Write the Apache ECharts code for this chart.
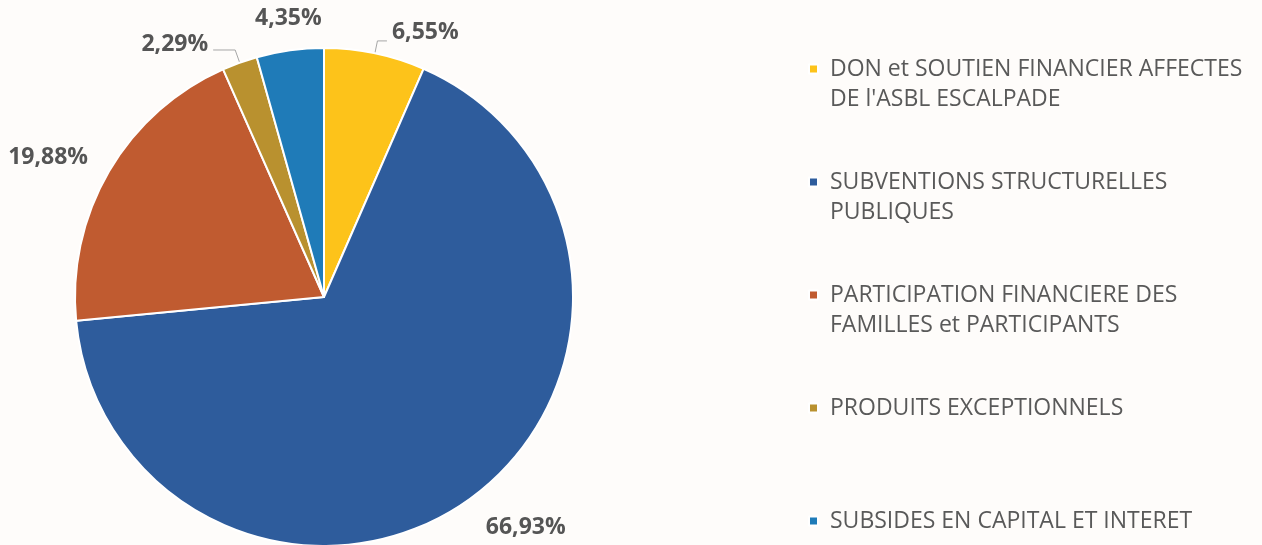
<!DOCTYPE html>
<html><head><meta charset="utf-8">
<script src="https://cdn.jsdelivr.net/npm/echarts@6/dist/echarts.min.js"></script>
<style>html,body{margin:0;padding:0;background:#fefcfa}#c{width:1262px;height:545px}</style>
</head><body><div id="c"></div>
<script>
const categories = [
  "DON et SOUTIEN FINANCIER AFFECTES DE l'ASBL ESCALPADE",
  "SUBVENTIONS STRUCTURELLES PUBLIQUES",
  "PARTICIPATION FINANCIERE DES FAMILLES et PARTICIPANTS",
  "PRODUITS EXCEPTIONNELS",
  "SUBSIDES EN CAPITAL ET INTERET"
];
const legendLabels = [
  "DON et SOUTIEN FINANCIER AFFECTES\nDE l'ASBL ESCALPADE",
  "SUBVENTIONS STRUCTURELLES\nPUBLIQUES",
  "PARTICIPATION FINANCIERE DES\nFAMILLES et PARTICIPANTS",
  "PRODUITS EXCEPTIONNELS",
  "SUBSIDES EN CAPITAL ET INTERET"
];
const values = [6.55, 66.93, 19.88, 2.29, 4.35];
const colors = ['#fdc31a', '#2e5c9c', '#c05b30', '#b9912f', '#1f7bb8'];

const font = "'Open Sans', sans-serif";
// per-slice label geometry (leader line lengths, show line, fine offsets)
const labelCfg = [
  {len: 12.6, len2: 9.5, line: true, dx: 0, dy: -8},
  {len: 30, len2: 0, line: false, dx: -7, dy: 5},
  {len: 15, len2: 0, line: false, dx: -3, dy: -6},
  {len: 13.5, len2: 22, line: true, dx: 0, dy: -6},
  {len: 32, len2: 0, line: false, dx: 41, dy: 0}
];

const data = categories.map((n, i) => ({
  name: n, value: values[i],
  itemStyle: {color: colors[i]},
  labelLine: {show: labelCfg[i].line, length: labelCfg[i].len, length2: labelCfg[i].len2}
}));

// keep the legend icon on the first text line: pad each entry to 3 lines
function legendText(name) {
  const t = legendLabels[categories.indexOf(name)];
  return t.indexOf('\n') >= 0 ? '\n' + t : '\n' + t + '\n';
}

const chart = echarts.init(document.getElementById('c'), null, {renderer: 'canvas'});
chart.setOption({
  backgroundColor: '#fefcfa',
  animation: false,
  color: colors,
  legend: {
    orient: 'vertical',
    left: 808, top: 24,
    height: 700,
    padding: 0,
    itemGap: 23,
    itemWidth: 9, itemHeight: 9,
    icon: 'rect',
    data: categories,
    formatter: legendText,
    textStyle: {fontFamily: font, fontSize: 23, color: '#595959', lineHeight: 30, padding: [0, 0, 0, 7]}
  },
  series: [{
    type: 'pie',
    center: [324, 297],
    radius: 249,
    startAngle: 90,
    clockwise: true,
    avoidLabelOverlap: false,
    itemStyle: {borderColor: '#ffffff', borderWidth: 2},
    label: {
      show: true, position: 'outside',
      formatter: p => p.value.toFixed(2).replace('.', ',') + '%',
      fontFamily: font, fontSize: 23, fontWeight: 'bold', color: '#555555',
      distanceToLabelLine: 5
    },
    labelLine: {lineStyle: {color: '#a6a6a6', width: 1}, smooth: false},
    labelLayout: p => ({dx: labelCfg[p.dataIndex].dx, dy: labelCfg[p.dataIndex].dy}),
    data: data
  }]
});
</script></body></html>
